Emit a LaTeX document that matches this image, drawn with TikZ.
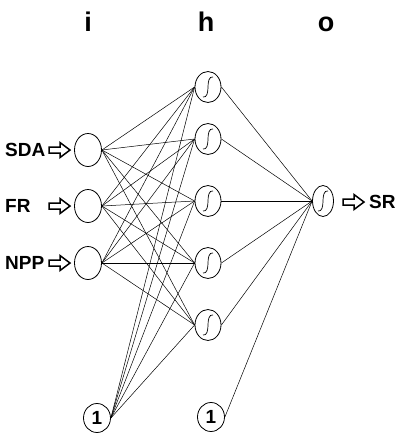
\documentclass[tikz,border=0pt]{standalone}
\usepackage{fontspec}
\setmainfont{Liberation Sans}
\usetikzlibrary{shapes.geometric}
\begin{document}
\begin{tikzpicture}[x=1pt,y=-1pt,
  neuron/.style={ellipse,draw,line width=0.8pt,inner sep=0pt,minimum width=26pt,minimum height=31pt},
  innode/.style={neuron,minimum width=27pt,minimum height=33pt},
  biasnode/.style={neuron,minimum width=27pt,minimum height=29pt,font=\fontsize{19}{19}\selectfont\bfseries},
  outnode/.style={neuron,minimum width=21pt,minimum height=31pt},
  conn/.style={line width=0.5pt},
  lbl/.style={font=\fontsize{19}{19}\selectfont\bfseries,inner sep=0pt},
  head/.style={font=\fontsize{27}{27}\selectfont\bfseries,inner sep=0pt,anchor=base},
  sig/.pic={\draw[line width=0.7pt] (-5,10) .. controls (-1,11) and (0,5) .. (0,0) .. controls (0,-5) and (1,-11) .. (5,-10);},
  harrow/.pic={\draw[line width=1.5pt,line join=miter] (0,-3)--(11,-3)--(11,-7.5)--(21,0)--(11,7.5)--(11,3)--(0,3)--cycle;}]
\useasboundingbox (0,0) rectangle (401,437);

% column labels
\node[head] (li) at (88,31) {i};
\node[head] (lh) at (206,31) {h};
\node[head] (lo) at (326,31) {o};

% input layer
\node[innode] (i1) at (88,150) {};
\node[innode] (i2) at (88,206) {};
\node[innode] (i3) at (88,263) {};
\node[biasnode] (b1) at (97,418) {1};

% hidden layer
\node[neuron] (h1) at (208,87) {};
\node[neuron] (h2) at (208,139) {};
\node[neuron] (h3) at (208,201) {};
\node[neuron] (h4) at (208,263) {};
\node[neuron] (h5) at (208,325) {};
\node[biasnode] (b2) at (211,417) {1};

% output layer
\node[outnode] (o) at (323,201) {};

% sigmoid symbols
\foreach \n in {h1,h2,h3,h4,h5,o} \pic at (\n) {sig};

% connections
\foreach \a in {i1,i2,i3,b1}
  \foreach \b in {h1,h2,h3,h4,h5}
    \draw[conn] (\a.east) -- (\b.west);
\foreach \b in {h1,h2,h3,h4,h5,b2}
  \draw[conn] (\b.east) -- (o.west);

% input labels and arrows
\node[lbl,anchor=west] (tsda) at (5,150) {SDA};
\node[lbl,anchor=west] (tfr) at (5,206) {FR};
\node[lbl,anchor=west] (tnpp) at (5,263) {NPP};
\pic at (49,150) {harrow};
\pic at (49,206) {harrow};
\pic at (49,263) {harrow};

% output arrow and label
\pic at (343,202) {harrow};
\node[lbl,anchor=west] (tsr) at (369,202) {SR};
\end{tikzpicture}
\end{document}
